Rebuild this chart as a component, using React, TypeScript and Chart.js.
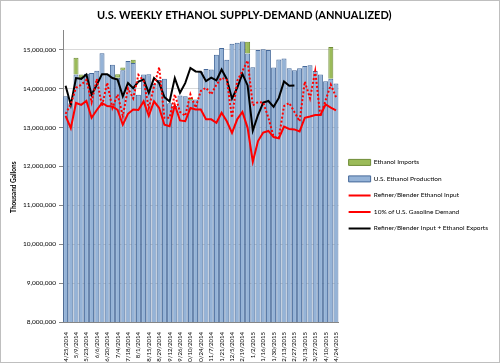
import React, { useEffect, useRef } from "react";
import { Chart, registerables } from "chart.js";
Chart.register(...registerables);

const FONT = "Lato, 'Open Sans', sans-serif";

const weeks = [
  "4/25/2014", "5/2/2014", "5/9/2014", "5/16/2014", "5/23/2014", "5/30/2014", "6/6/2014", "6/13/2014",
  "6/20/2014", "6/27/2014", "7/4/2014", "7/11/2014", "7/18/2014", "7/25/2014", "8/1/2014", "8/8/2014",
  "8/15/2014", "8/22/2014", "8/29/2014", "9/5/2014", "9/12/2014", "9/19/2014", "9/26/2014", "10/3/2014",
  "10/10/2014", "10/17/2014", "10/24/2014", "10/31/2014", "11/7/2014", "11/14/2014", "11/21/2014", "11/28/2014",
  "12/5/2014", "12/12/2014", "12/19/2014", "12/26/2014", "1/2/2015", "1/9/2015", "1/16/2015", "1/23/2015",
  "1/30/2015", "2/6/2015", "2/13/2015", "2/20/2015", "2/27/2015", "3/6/2015", "3/13/2015", "3/20/2015",
  "3/27/2015", "4/3/2015", "4/10/2015", "4/17/2015", "4/24/2015",
];

// Thousand gallons, annualized
const ethanolProduction = [
  13800000, 13620000, 14360000, 14270000, 14380000, 14400000, 14460000, 14910000,
  14380000, 14610000, 14280000, 14470000, 14710000, 14660000, 13840000, 14360000,
  14370000, 14120000, 14220000, 14250000, 13620000, 13550000, 13820000, 13800000,
  13700000, 13720000, 14440000, 14500000, 14490000, 14870000, 15040000, 14740000,
  15150000, 15180000, 15210000, 14900000, 14550000, 14990000, 15010000, 14990000,
  14540000, 14750000, 14770000, 14520000, 14470000, 14520000, 14580000, 14600000,
  14450000, 14360000, 14190000, 14250000, 14130000,
];

const ethanolImports = [
  0, 0, 430000, 90000, 0, 0, 0, 0,
  0, 0, 90000, 70000, 0, 80000, 0, 0,
  0, 0, 0, 0, 0, 0, 0, 0,
  60000, 0, 0, 0, 0, 0, 0, 0,
  0, 0, 0, 300000, 0, 0, 0, 0,
  0, 0, 0, 0, 0, 0, 0, 0,
  0, 0, 0, 820000, 0,
];

const blenderInput = [
  13300000, 12980000, 13630000, 13580000, 13680000, 13250000, 13450000, 13630000,
  13550000, 13540000, 13450000, 13070000, 13350000, 13460000, 13450000, 13670000,
  13300000, 13670000, 13500000, 13070000, 13030000, 13580000, 13180000, 13160000,
  13500000, 13460000, 13460000, 13210000, 13210000, 13120000, 13380000, 13160000,
  12860000, 13210000, 13400000, 12990000, 12120000, 12650000, 12870000, 12910000,
  12750000, 12720000, 13020000, 12960000, 12950000, 12900000, 13250000, 13280000,
  13320000, 13320000, 13590000, 13510000, 13440000,
];

const gasolineDemand10 = [
  13350000, 13600000, 14020000, 14100000, 14220000, 13650000, 14250000, 13550000,
  14150000, 13500000, 13850000, 13300000, 14000000, 13750000, 14350000, 14200000,
  13500000, 14050000, 14550000, 13250000, 13250000, 13850000, 13400000, 13300000,
  13850000, 13510000, 13940000, 14020000, 13850000, 14100000, 14280000, 14220000,
  13250000, 14200000, 14450000, 14720000, 13570000, 13650000, 13640000, 13250000,
  12760000, 12730000, 13550000, 13630000, 13400000, 13160000, 14180000, 13750000,
  14450000, 13280000, 13700000, 14100000, 13780000,
];

const inputPlusExports = [
  14070000, 13580000, 14270000, 14250000, 14360000, 13840000, 14100000, 14370000,
  14370000, 14270000, 14230000, 13800000, 14140000, 14010000, 14180000, 14230000,
  13890000, 14270000, 14140000, 13780000, 13670000, 14270000, 13890000, 14140000,
  14530000, 14440000, 14430000, 14190000, 14280000, 14210000, 14490000, 14240000,
  13740000, 14020000, 14380000, 14080000, 12920000, 13320000, 13640000, 13680000,
  13530000, 13760000, 14180000, 14070000, 14080000, null, null, null,
  null, null, null, null, null,
];

const yTickValues = [8000000, 9000000, 10000000, 11000000, 12000000, 13000000, 14000000, 15000000];
const yMin = 8000000;
const yMax = 15500000;

const NB = "\u00a0";

export default function App() {
  const ref = useRef<HTMLCanvasElement | null>(null);

  useEffect(() => {
    if (!ref.current) return;
    const chart = new Chart(ref.current, {
      type: "bar",
      data: {
        labels: weeks,
        datasets: [
          {
            type: "bar",
            label: "Ethanol Imports",
            data: ethanolImports,
            stack: "supply",
            order: 2,
            backgroundColor: "#9bbb59",
            borderColor: "#6f8c37",
            borderWidth: 1,
            barPercentage: 0.96,
            categoryPercentage: 1,
            pointStyle: "rect",
          },
          {
            type: "bar",
            label: "U.S. Ethanol Production",
            data: ethanolProduction,
            stack: "supply",
            order: 1,
            backgroundColor: "#95b3d7",
            borderColor: "#46699a",
            borderWidth: 1,
            barPercentage: 0.96,
            categoryPercentage: 1,
            pointStyle: "rect",
          },
          {
            type: "line",
            label: "Refiner/Blender Ethanol Input",
            data: blenderInput,
            stack: "l1",
            order: 0,
            borderColor: "#ff0000",
            backgroundColor: "#ff0000",
            borderWidth: 2,
            pointRadius: 0,
            tension: 0,
            pointStyle: "line",
          },
          {
            type: "line",
            label: "10% of U.S. Gasoline Demand",
            data: gasolineDemand10,
            stack: "l2",
            order: 0,
            borderColor: "#ff0000",
            backgroundColor: "#ff0000",
            borderWidth: 2,
            borderDash: [2, 2],
            pointRadius: 0,
            tension: 0,
            pointStyle: "line",
          },
          {
            type: "line",
            label: "Refiner/Blender Input + Ethanol Exports",
            data: inputPlusExports,
            stack: "l3",
            order: 0,
            borderColor: "#000000",
            backgroundColor: "#000000",
            borderWidth: 2,
            pointRadius: 0,
            tension: 0,
            spanGaps: false,
            pointStyle: "line",
          },
        ] as any,
      },
      options: {
        responsive: false,
        animation: false,
        devicePixelRatio: 1,
        layout: { padding: { left: 4, right: 2, top: 0, bottom: 0 } },
        plugins: {
          title: {
            display: true,
            text: "U.S. WEEKLY ETHANOL SUPPLY-DEMAND (ANNUALIZED)" + NB.repeat(5),
            color: "#000000",
            font: { family: FONT, size: 11, weight: "bold" },
            padding: { top: 9, bottom: 8 },
          },
          legend: {
            position: "right",
            align: "center",
            maxWidth: 220,
            title: {
              display: true,
              text: " ",
              font: { family: FONT, size: 6.5 },
              padding: { top: 20, bottom: 0 },
            },
            labels: {
              usePointStyle: true,
              pointStyleWidth: 22,
              boxHeight: 6,
              padding: 10,
              color: "#000000",
              font: { family: FONT, size: 6.5 },
              sort: (a: any, b: any) => a.datasetIndex - b.datasetIndex,
            },
          },
          tooltip: { enabled: false },
        },
        scales: {
          x: {
            stacked: true,
            grid: { display: false },
            border: { color: "#868686" },
            ticks: {
              autoSkip: false,
              minRotation: 90,
              maxRotation: 90,
              padding: 2,
              color: "#000000",
              font: { family: FONT, size: 6 },
              callback: (_v: any, i: number) => (i % 2 === 0 ? weeks[i] : null),
            },
            afterFit: (s: any) => {
              s.height = 41;
            },
          },
          y: {
            min: yMin,
            max: yMax,
            border: { color: "#868686" },
            grid: { color: "#d9d9d9", tickColor: "#868686", tickLength: 4 },
            ticks: {
              autoSkip: false,
              padding: 3,
              color: "#000000",
              font: { family: FONT, size: 6.5 },
              callback: (v: any) => Number(v).toLocaleString("en-US"),
            },
            afterBuildTicks: (s: any) => {
              s.ticks = yTickValues.map((v) => ({ value: v }));
            },
            afterFit: (s: any) => {
              s.width = 59;
            },
            title: {
              display: true,
              text: "Thousand Gallons" + NB.repeat(14),
              color: "#000000",
              font: { family: FONT, size: 6.5, weight: "bold" },
              padding: { top: 6, bottom: 2 },
            },
          },
        },
      } as any,
    });
    return () => chart.destroy();
  }, []);

  return (
    <div style={{ position: "absolute", left: 0, top: 0, width: 500, height: 363, background: "#ffffff" }}>
      <canvas ref={ref} width={500} height={363} style={{ width: 500, height: 363, display: "block" }} />
      <div
        style={{
          position: "absolute",
          left: 0,
          top: 0,
          width: 500,
          height: 363,
          boxSizing: "border-box",
          border: "1px solid #bfbfbf",
          pointerEvents: "none",
        }}
      />
    </div>
  );
}
